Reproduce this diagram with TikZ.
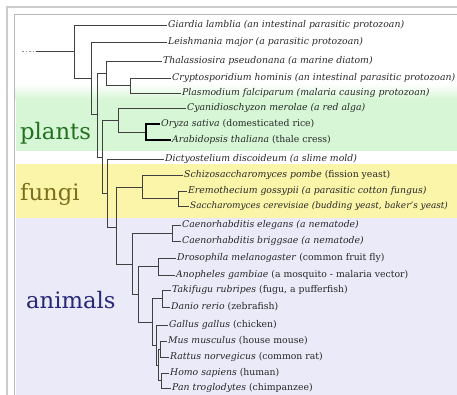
\documentclass[tikz,border=0pt]{standalone}
\usepackage{fontspec}
\setmainfont{DejaVu Serif}

\definecolor{plantbg}{RGB}{214,246,214}
\definecolor{fungibg}{RGB}{250,245,168}
\definecolor{animalbg}{RGB}{234,234,248}
\definecolor{plantfg}{RGB}{34,112,34}
\definecolor{fungifg}{RGB}{125,112,28}
\definecolor{animalfg}{RGB}{40,40,120}

\begin{document}
\begin{tikzpicture}[x=1pt, y=-1pt,
    branch/.style={draw=black!75, line width=0.9pt},
    twig/.style={branch, draw=black, line width=1.6pt},
    leaf/.style={anchor=west, inner sep=1pt, text=black!85, font=\fontsize{9.3}{11}\selectfont},
    cladename/.style={anchor=base west, inner sep=0pt, font=\fontsize{22.7}{27}\selectfont}]
    \useasboundingbox (0,0) rectangle (457,394);
    \clip (0,0) rectangle (457,394);

    % The frame
    \draw[black!20, line width=2pt] (7,7) rectangle (500,430);
    \draw[black!28, line width=1.4pt] (14.5,14.5) rectangle (500,430);

    % Coloured bands
    \shade[top color=white, bottom color=plantbg] (15.5,84) rectangle (480,99.5);
    \fill[plantbg] (15.5,99) rectangle (480,151);
    \fill[fungibg] (15.5,164) rectangle (480,218);
    \fill[animalbg] (15.5,218) rectangle (480,420);

    % Group names
    \node[cladename, text=plantfg] (plants) at (20,139) {plants};
    \node[cladename, text=fungifg] (fungi) at (20,200) {fungi};
    \node[cladename, text=animalfg] (animals) at (26,308) {animals};

    % Leaves
    \node[leaf] (giardia) at (167,25) {\textit{Giardia lamblia (an intestinal parasitic protozoan)}};
    \node[leaf] (leish) at (167,42) {\textit{Leishmania major (a parasitic protozoan)}};
    \node[leaf] (thal) at (162,61) {\textit{Thalassiosira pseudonana (a marine diatom)}};
    \node[leaf] (crypto) at (171,78) {\textit{Cryptosporidium hominis (an intestinal parasitic protozoan)}};
    \node[leaf] (plasmo) at (181,93) {\textit{Plasmodium falciparum (malaria causing protozoan)}};
    \node[leaf] (cyanid) at (186,108) {\textit{Cyanidioschyzon merolae (a red alga)}};
    \node[leaf] (oryza) at (160,124) {\textit{Oryza sativa} (domesticated rice)};
    \node[leaf] (arab) at (171,140) {\textit{Arabidopsis thaliana} (thale cress)};
    \node[leaf] (dicty) at (164,159) {\textit{Dictyostelium discoideum (a slime mold)}};
    \node[leaf] (schizo) at (183,175) {\textit{Schizosaccharomyces pombe} (fission yeast)};
    \node[leaf] (eremo) at (187,191) {\textit{Eremothecium gossypii (a parasitic cotton fungus)}};
    \node[leaf, font=\fontsize{8.9}{11}\selectfont] (sacch) at (189,206) {\textit{Saccharomyces cerevisiae (budding yeast, baker's yeast)}};
    \node[leaf] (elegans) at (181,225) {\textit{Caenorhabditis elegans (a nematode)}};
    \node[leaf] (briggsae) at (181,241) {\textit{Caenorhabditis briggsae (a nematode)}};
    \node[leaf] (dros) at (176,258) {\textit{Drosophila melanogaster} (common fruit fly)};
    \node[leaf] (anoph) at (175,275) {\textit{Anopheles gambiae} (a mosquito - malaria vector)};
    \node[leaf] (fugu) at (171,290) {\textit{Takifugu rubripes} (fugu, a pufferfish)};
    \node[leaf] (danio) at (170,307) {\textit{Danio rerio} (zebrafish)};
    \node[leaf] (gallus) at (168,325) {\textit{Gallus gallus} (chicken)};
    \node[leaf] (mus) at (167,341) {\textit{Mus musculus} (house mouse)};
    \node[leaf] (rattus) at (169,357) {\textit{Rattus norvegicus} (common rat)};
    \node[leaf] (homo) at (169,373) {\textit{Homo sapiens} (human)};
    \node[leaf] (pan) at (171,388) {\textit{Pan troglodytes} (chimpanzee)};

    % Inner nodes
    \coordinate (root) at (74,51.5);
    \coordinate (n1) at (91,78);
    \coordinate (n2) at (97,114.5);
    \coordinate (thalc) at (106,73);
    \coordinate (apic) at (130,85.5);
    \coordinate (n4) at (102,157);
    \coordinate (plantc) at (118,120);
    \coordinate (angio) at (146,132);
    \coordinate (n5) at (107,193);
    \coordinate (opis) at (116,227);
    \coordinate (fungc) at (142,187);
    \coordinate (yeast) at (178,198.5);
    \coordinate (anim) at (132,264);
    \coordinate (nema) at (172,233);
    \coordinate (bilat) at (138,294.5);
    \coordinate (arth) at (158,266.5);
    \coordinate (vert) at (152,322);
    \coordinate (fish) at (162,298.5);
    \coordinate (tetra) at (156,345);
    \coordinate (mamm) at (158,365);
    \coordinate (rodent) at (160,349);
    \coordinate (primate) at (161,380.5);

    % Stem with dots
    \coordinate (stem) at (36,51.5);
    \coordinate (stemend) at (22,51.5);
    \draw[black!45, line width=1pt, dash pattern=on 1.5pt off 2pt] (stemend) -- (stem);
    \draw[branch] (stem) -- (root);

    % Branches
    \foreach \p/\c in {root/n1, n1/n2, n2/thalc, thalc/apic, n2/n4, n4/plantc,
        plantc/angio, n4/n5, n5/opis, opis/fungc, fungc/yeast, opis/anim,
        anim/nema, anim/bilat, bilat/arth, bilat/vert, vert/fish, vert/tetra,
        tetra/mamm, mamm/rodent, mamm/primate}
        \draw[branch] (\p) |- (\c);
    \foreach \p/\c in {root/giardia, n1/leish, thalc/thal, apic/crypto, apic/plasmo,
        plantc/cyanid, n5/dicty, fungc/schizo, yeast/eremo, yeast/sacch,
        nema/elegans, nema/briggsae, arth/dros, arth/anoph, fish/fugu, fish/danio,
        tetra/gallus, rodent/mus, rodent/rattus, primate/homo, primate/pan}
        \draw[branch] (\p) |- (\c.west);
    \foreach \c in {oryza, arab}
        \draw[twig] (angio) |- (\c.west);
\end{tikzpicture}
\end{document}
